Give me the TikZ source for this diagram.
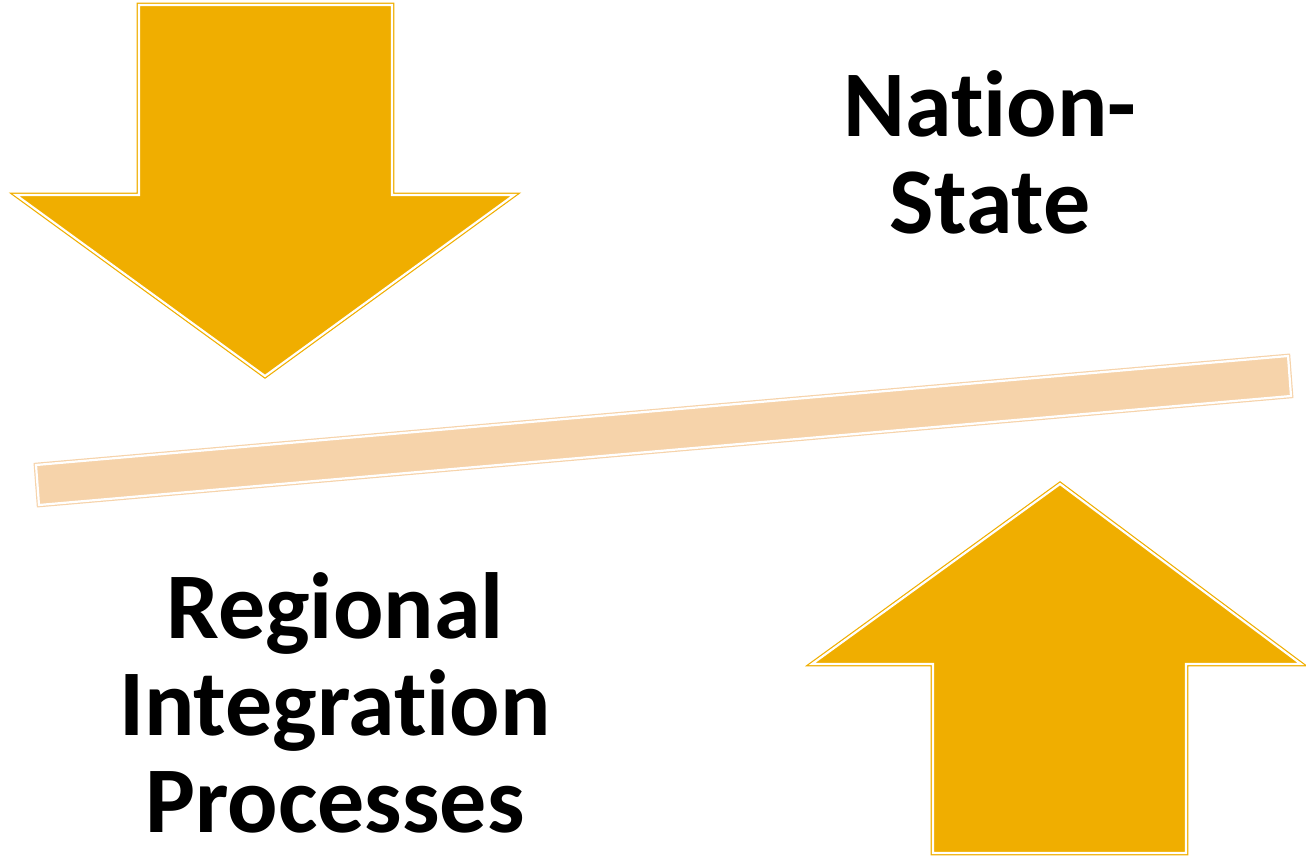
\documentclass[tikz,border=0pt]{standalone}
\usepackage{fontspec}
\setmainfont{Carlito}[Ligatures={NoCommon,NoRare}]
\usetikzlibrary{positioning}
\definecolor{arrowgold}{HTML}{F0AE00}
\definecolor{barpeach}{HTML}{F6D3AA}
\tikzset{
  bigarrow/.style = {fill=arrowgold, draw=arrowgold, line width=1.2pt,
                     double=white, double distance=2.2pt, line join=miter},
  balance/.style  = {fill=barpeach, draw=barpeach, line width=1.2pt,
                     double=white, double distance=2.2pt},
  label/.style    = {font=\fontsize{94}{97}\selectfont\bfseries, align=center,
                     inner sep=0pt}
}

\begin{document}
\begin{tikzpicture}[x=1pt, y=-1pt]
\useasboundingbox (0,0) rectangle (1306,856);

% arrow pressing down from above
\draw[bigarrow] (139,5) -- (392,5) -- (392,195) -- (514,195) -- (265,376)
  -- (16,195) -- (139,195) -- cycle;

% arrow pushing up from below
\draw[bigarrow] (933,853) -- (1186,853) -- (1186,664) -- (1301,664) -- (1060,484)
  -- (812,664) -- (933,664) -- cycle;

% the tilted bar
\draw[balance] (36,465) -- (1288,356) -- (1291,396) -- (39,505) -- cycle;

% texts
\node[label] (nation) at (990,152) {Nation-\\State};
\node[label] (regional) at (335,703) {Regional\\Integration\\Processes};
\end{tikzpicture}
\end{document}
